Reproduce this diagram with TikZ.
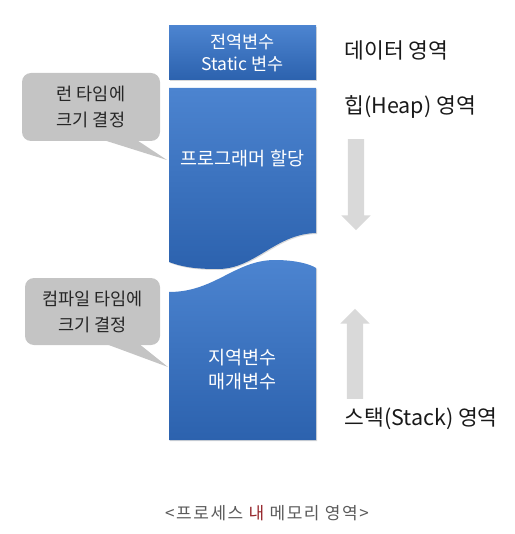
\documentclass[tikz,border=0pt]{standalone}
\usepackage{fontspec}
\setmainfont{Noto Sans CJK KR}
\usetikzlibrary{shapes.arrows, shadows}

\definecolor{boxtop}{RGB}{76,132,208}
\definecolor{boxbottom}{RGB}{44,98,174}
\definecolor{notegray}{RGB}{196,196,196}
\definecolor{growgray}{RGB}{217,217,217}
\definecolor{captiongray}{RGB}{90,90,90}
\definecolor{captionred}{RGB}{150,40,45}

\begin{document}
\begin{tikzpicture}[
    x=1pt, y=-1pt,
    membox/.style={
        rectangle,
        top color=boxtop,
        bottom color=boxbottom,
        text=white,
        align=center,
        inner sep=0pt,
        font=\fontsize{17.5}{22}\selectfont,
        drop shadow={opacity=0.3, shadow xshift=1pt, shadow yshift=-1pt}
    },
    memshade/.style={
        top color=boxtop,
        bottom color=boxbottom,
        drop shadow={opacity=0.3, shadow xshift=1pt, shadow yshift=-1pt}
    },
    memtext/.style={
        text=white,
        align=center,
        font=\fontsize{18.5}{24}\selectfont
    },
    note/.style={
        rectangle,
        rounded corners=9pt,
        fill=notegray,
        text=black!85,
        align=center,
        inner sep=0pt,
        font=\fontsize{17.5}{26}\selectfont
    },
    notetail/.style={
        fill=notegray
    },
    growarrow/.style={
        single arrow,
        fill=growgray,
        inner sep=8pt,
        minimum width=29pt,
        single arrow head extend=6.5pt,
        single arrow head indent=0pt
    },
    area/.style={
        anchor=west,
        text=black!90,
        font=\fontsize{21.5}{24}\selectfont
    }
]
\useasboundingbox (0,0) rectangle (514,534);

% Nodes
\node[membox, minimum width=147pt, minimum height=54pt] (data) at (242.5,53) {전역변수\\Static 변수};

% heap block with wavy lower edge
\path[memshade] (169,88) -- (316,88) -- (316,233)
    .. controls (275,234) and (255,269) .. (218,269)
    .. controls (200,269) and (185,268) .. (169,262) -- cycle;
\node[memtext] (heap) at (242.5,158) {프로그래머 할당};

% stack block with wavy upper edge
\path[memshade] (169,292)
    .. controls (215,292) and (235,260) .. (275,260)
    .. controls (295,260) and (310,264) .. (316,268)
    -- (316,440) -- (169,440) -- cycle;
\node[memtext] (stack) at (242.5,370) {지역변수\\매개변수};

\node[note, minimum width=138pt, minimum height=68pt] (rtnote) at (91,107) {런 타임에\\크기 결정};
\node[note, minimum width=135pt, minimum height=67pt] (ctnote) at (92.5,311.5) {컴파일 타임에\\크기 결정};

\coordinate (heaptip) at (167,160);
\coordinate (stacktip) at (168,367);

\node[growarrow, shape border rotate=270, minimum height=91pt] (heapgrow) at (356,180.5) {};
\node[growarrow, shape border rotate=90, minimum height=90pt] (stackgrow) at (355,358) {};

\node[area] (datalbl) at (341,50) {데이터 영역};
\node[area] (heaplbl) at (341,107) {힙(Heap) 영역};
\node[area] (stacklbl) at (341,419) {스택(Stack) 영역};

\node[text=captiongray, font=\fontsize{17}{18}\selectfont\addfontfeature{LetterSpace=9}] (caption) at (267,513)
    {<프로세스 \textcolor{captionred}{내} 메모리 영역>};

% Connections
\fill[notetail] ([xshift=13pt, yshift=1pt]rtnote.south) -- (heaptip) -- ([xshift=46pt, yshift=1pt]rtnote.south) -- cycle;
\fill[notetail] ([xshift=14pt, yshift=1pt]ctnote.south) -- (stacktip) -- ([xshift=47pt, yshift=1pt]ctnote.south) -- cycle;

\end{tikzpicture}
\end{document}
